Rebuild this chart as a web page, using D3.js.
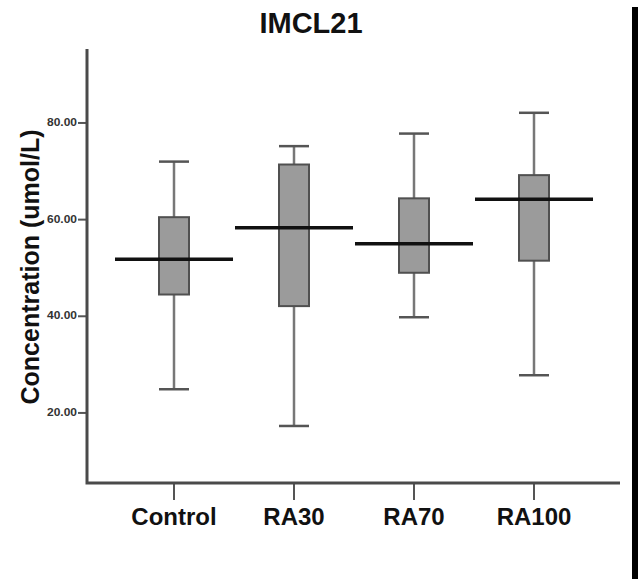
<!DOCTYPE html>
<html>
<head>
<meta charset="utf-8">
<script src="https://cdn.jsdelivr.net/npm/d3@7"></script>
<style>
  body { margin: 0; background: #fff; }
  text { font-family: "Liberation Sans", Arial, sans-serif; }
</style>
</head>
<body>
<div id="chart"></div>
<script>
// data
var groups = ["Control", "RA30", "RA70", "RA100"];
var whiskerLow = [24.8, 17.2, 39.7, 27.7];
var q1 = [44.4, 42.0, 48.9, 51.4];
var centre = [51.7, 58.2, 54.9, 64.1];
var q3 = [60.4, 71.3, 64.3, 69.1];
var whiskerHigh = [71.9, 75.1, 77.7, 82.0];
var yTicks = [20, 40, 60, 80];

var svgWidth = 638;
var svgHeight = 579;

var svg = d3.select("#chart")
  .append("svg")
  .attr("width", svgWidth)
  .attr("height", svgHeight);

var axisX = 87;
var axisY = 483;

var x = d3.scaleBand()
  .domain(groups)
  .range([114, 594])
  .padding(0);

var y = d3.scaleLinear()
  .domain([5.4, 95.2])
  .range([axisY, 49]);

var data = groups.map(function(g, i) {
  return {
    name: g,
    lo: whiskerLow[i],
    q1: q1[i],
    mid: centre[i],
    q3: q3[i],
    hi: whiskerHigh[i]
  };
});

// title
svg.append("text")
  .attr("x", 311)
  .attr("y", 33)
  .attr("text-anchor", "middle")
  .attr("font-size", "29px")
  .attr("font-weight", "bold")
  .attr("fill", "#111")
  .text("IMCL21");

// y axis
var leftAxis = d3.axisLeft(y)
  .tickValues(yTicks)
  .tickSize(9)
  .tickPadding(1)
  .tickFormat(d3.format(".2f"));

var yAxis = svg.append("g")
  .attr("transform", `translate(${axisX}, 0)`)
  .call(leftAxis);
yAxis.select(".domain").remove();
yAxis.selectAll(".tick line").attr("stroke", "#555").attr("stroke-width", 2);
yAxis.selectAll(".tick text")
  .attr("font-size", "10px")
  .attr("font-weight", "bold")
  .attr("fill", "#333")
  .attr("textLength", 30)
  .attr("lengthAdjust", "spacingAndGlyphs");

// x axis
var bottomAxis = d3.axisBottom(x)
  .tickSize(17)
  .tickPadding(8);

var xAxis = svg.append("g")
  .attr("transform", `translate(0, ${axisY})`)
  .call(bottomAxis);
xAxis.select(".domain").remove();
xAxis.selectAll(".tick line").attr("stroke", "#555").attr("stroke-width", 2);
xAxis.selectAll(".tick text")
  .attr("font-size", "24px")
  .attr("font-weight", "bold")
  .attr("fill", "#111");

// axis lines
svg.append("path")
  .attr("d", `M${axisX},49V${axisY}H620`)
  .attr("fill", "none")
  .attr("stroke", "#4a4a4a")
  .attr("stroke-width", 3);

// y label
svg.append("text")
  .attr("transform", `translate(39, 267)rotate(-90)`)
  .attr("text-anchor", "middle")
  .attr("font-size", "25px")
  .attr("font-weight", "bold")
  .attr("fill", "#111")
  .text("Concentration (umol/L)");

// boxes
var boxW = 30;
var box = svg.selectAll(".box")
  .data(data)
  .enter()
  .append("g")
  .attr("class", "box")
  .attr("transform", d => `translate(${x(d.name) + x.bandwidth() / 2}, 0)`);

box.append("line")
  .attr("x1", 0).attr("x2", 0)
  .attr("y1", d => y(d.lo))
  .attr("y2", d => y(d.hi))
  .attr("stroke", "#777")
  .attr("stroke-width", 2.5);

box.append("line")
  .attr("x1", -boxW / 2).attr("x2", boxW / 2)
  .attr("y1", d => y(d.hi)).attr("y2", d => y(d.hi))
  .attr("stroke", "#555")
  .attr("stroke-width", 2.5);

box.append("line")
  .attr("x1", -boxW / 2).attr("x2", boxW / 2)
  .attr("y1", d => y(d.lo)).attr("y2", d => y(d.lo))
  .attr("stroke", "#555")
  .attr("stroke-width", 2.5);

box.append("rect")
  .attr("x", -boxW / 2)
  .attr("y", d => y(d.q3))
  .attr("width", boxW)
  .attr("height", d => y(d.q1) - y(d.q3))
  .attr("fill", "#9b9b9b")
  .attr("stroke", "#505050")
  .attr("stroke-width", 2);

box.append("line")
  .attr("x1", -x.bandwidth() / 2 + 1)
  .attr("x2", x.bandwidth() / 2 - 1)
  .attr("y1", d => y(d.mid)).attr("y2", d => y(d.mid))
  .attr("stroke", "#111")
  .attr("stroke-width", 3.5);

// right border bar
svg.append("rect")
  .attr("x", 632)
  .attr("y", 7)
  .attr("width", 6)
  .attr("height", svgHeight - 7)
  .attr("fill", "#000");
</script>
</body>
</html>
